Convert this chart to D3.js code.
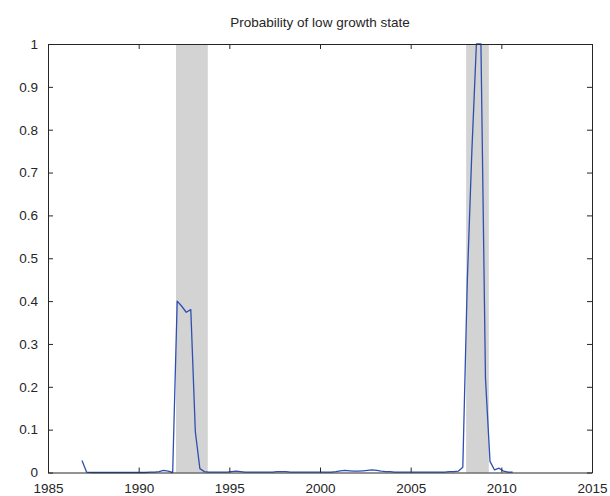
<!DOCTYPE html>
<html>
<head>
<meta charset="utf-8">
<script src="https://cdn.jsdelivr.net/npm/d3@7"></script>
<style>
  html, body { margin: 0; padding: 0; background: #fff; }
  svg text { font-family: "Liberation Sans", Arial, Helvetica, sans-serif; fill: #262626; }
</style>
</head>
<body>
<svg id="chart" width="610" height="496"></svg>
<script>
// ---- data ----
const title = "Probability of low growth state";
const firstQuarterDate = 1986.875;   // mid-point of 1986 Q4
const probLow = [
  0.028,                          // 1986 Q4
  0.001, 0.000, 0.000, 0.000,     // 1987
  0.000, 0.000, 0.000, 0.000,     // 1988
  0.000, 0.000, 0.000, 0.000,     // 1989
  0.000, 0.000, 0.001, 0.001,     // 1990
  0.002, 0.005, 0.003, 0.000,     // 1991
  0.400, 0.388, 0.374, 0.380,     // 1992
  0.095, 0.009, 0.002, 0.001,     // 1993
  0.001, 0.001, 0.001, 0.001,     // 1994
  0.002, 0.003, 0.002, 0.001,     // 1995
  0.001, 0.001, 0.001, 0.001,     // 1996
  0.001, 0.001, 0.002, 0.002,     // 1997
  0.002, 0.001, 0.001, 0.001,     // 1998
  0.001, 0.001, 0.001, 0.001,     // 1999
  0.001, 0.001, 0.001, 0.002,     // 2000
  0.004, 0.005, 0.004, 0.003,     // 2001
  0.003, 0.004, 0.005, 0.006,     // 2002
  0.005, 0.003, 0.002, 0.002,     // 2003
  0.001, 0.001, 0.001, 0.001,     // 2004
  0.001, 0.001, 0.001, 0.001,     // 2005
  0.001, 0.001, 0.001, 0.001,     // 2006
  0.002, 0.002, 0.003, 0.012,     // 2007
  0.450, 0.750, 1.000, 1.000,     // 2008
  0.220, 0.026, 0.006, 0.010,     // 2009
  0.003, 0.001, 0.001             // 2010
];
const recessionStart = [1992.06, 2008.06];
const recessionEnd   = [1993.81, 2009.31];
const xTicks = [1985, 1990, 1995, 2000, 2005, 2010, 2015];
const yTicks = [0, 0.1, 0.2, 0.3, 0.4, 0.5, 0.6, 0.7, 0.8, 0.9, 1];

// ---- layout ----
const svg = d3.select("#chart");
const m = { left: 48, right: 592, top: 44, bottom: 472.5 };
const x = d3.scaleLinear().domain([1985, 2015]).range([m.left, m.right]);
const y = d3.scaleLinear().domain([0, 1]).range([m.bottom, m.top]);

const series = probLow.map((v, i) => ({ t: firstQuarterDate + i * 0.25, v }));
const bands = recessionStart.map((s, i) => ({ s, e: recessionEnd[i] }));

// recession shading
svg.append("g").selectAll("rect").data(bands).join("rect")
  .attr("x", d => x(d.s))
  .attr("y", y(1))
  .attr("width", d => x(d.e) - x(d.s))
  .attr("height", y(0) - y(1))
  .attr("fill", "#d3d3d3");

// line
svg.append("path")
  .datum(series)
  .attr("fill", "none")
  .attr("stroke", "#2f4fb0")
  .attr("stroke-width", 1.3)
  .attr("stroke-linejoin", "round")
  .attr("d", d3.line().x(d => x(d.t)).y(d => y(d.v)));

// axes (MATLAB style, inward ticks, box)
const tl = 5;
const axisColor = "#262626";
const fmtY = d => (d === 0 || d === 1) ? String(d) : d3.format(".1f")(d);

const gB = svg.append("g").attr("transform", `translate(0,${m.bottom})`)
  .call(d3.axisBottom(x).tickValues(xTicks).tickFormat(d3.format("d")).tickSizeInner(-tl).tickSizeOuter(0).tickPadding(11));
const gT = svg.append("g").attr("transform", `translate(0,${m.top})`)
  .call(d3.axisTop(x).tickValues(xTicks).tickFormat("").tickSizeInner(-tl).tickSizeOuter(0));
const gL = svg.append("g").attr("transform", `translate(${m.left},0)`)
  .call(d3.axisLeft(y).tickValues(yTicks).tickFormat(fmtY).tickSizeInner(-tl).tickSizeOuter(0).tickPadding(10));
const gR = svg.append("g").attr("transform", `translate(${m.right},0)`)
  .call(d3.axisRight(y).tickValues(yTicks).tickFormat("").tickSizeInner(-tl).tickSizeOuter(0));

[gB, gT, gL, gR].forEach(g => {
  g.selectAll(".domain").attr("stroke", axisColor).attr("stroke-width", 1);
  g.selectAll(".tick line").attr("stroke", axisColor).attr("stroke-width", 1);
  g.selectAll(".tick text").attr("font-size", 13.5).attr("fill", axisColor)
    .style("font-family", '"Liberation Sans", Arial, sans-serif');
});

// title
svg.append("text")
  .attr("x", (m.left + m.right) / 2)
  .attr("y", 27)
  .attr("text-anchor", "middle")
  .attr("font-size", 13.5)
  .text(title);
</script>
</body>
</html>
